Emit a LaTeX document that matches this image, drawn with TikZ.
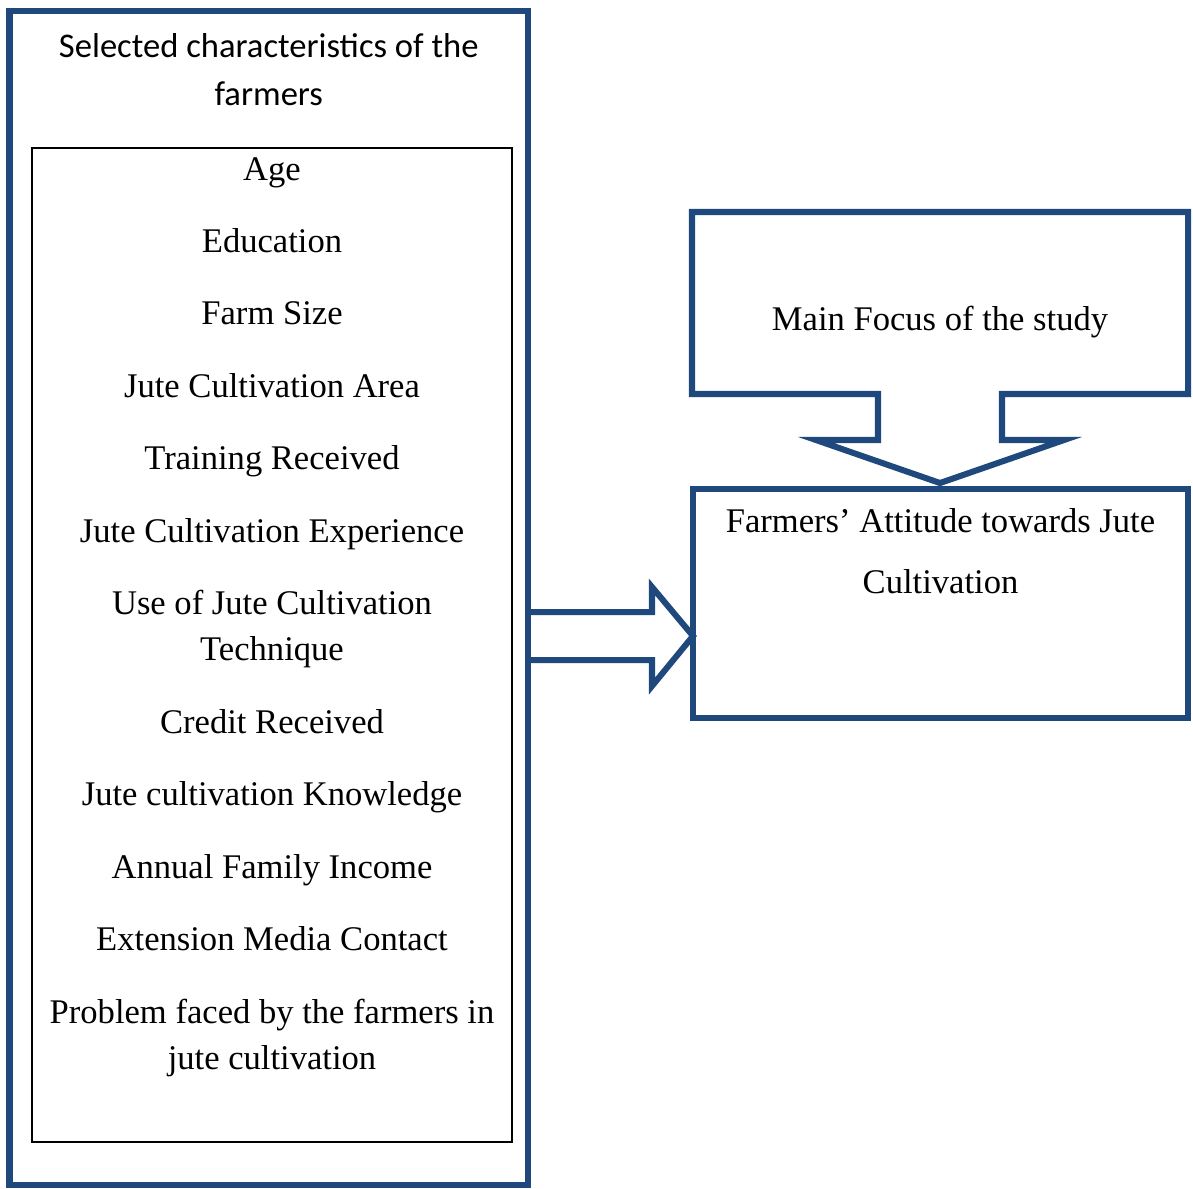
\documentclass[tikz,border=0pt]{standalone}
\usepackage{fontspec}
\setmainfont{Liberation Serif}
\newfontfamily\calibrifont{Carlito}
\usepackage{xcolor}
\usepackage{tikz}
\usetikzlibrary{positioning, fit, calc}
\definecolor{frameblue}{HTML}{1F497D}

\begin{document}
\begin{tikzpicture}[x=0.347pt, y=-0.347pt, node distance=8.74pt,
  box/.style={draw=frameblue, line width=2.1pt, inner sep=0pt, outer sep=0pt},
  listframe/.style={draw=black, line width=0.75pt, inner sep=0pt, outer sep=0pt},
  item/.style={align=center, inner sep=0pt, font=\fontsize{12}{16}\selectfont,
    execute at begin node=\strut, execute at end node=\strut},
  headline/.style={item, font=\calibrifont\fontsize{12}{16.66}\selectfont},
  result/.style={item, font=\fontsize{12}{21.2}\selectfont},
  blockarr/.style={draw=frameblue, line width=2.1pt, line join=miter}]

  \useasboundingbox (0,0) rectangle (1193,1188);

  % left side
  \node[box, fit={(9.5,11) (528,1185)}] (charbox) {};
  \node[listframe, fit={(32,148) (512,1142)}] (listbox) {};
  \node[headline, below=4.3pt of charbox.north] (title) {\strut Selected characteristics of the\\farmers};

  \node[item, anchor=base] (age) at (272,180) {Age};
  \node[item, below=of age] (edu) {Education};
  \node[item, below=of edu] (farm) {Farm Size};
  \node[item, below=of farm] (area) {Jute Cultivation Area};
  \node[item, below=of area] (training) {Training Received};
  \node[item, below=of training] (experience) {Jute Cultivation Experience};
  \node[item, below=of experience] (technique) {\strut Use of Jute Cultivation\\Technique};
  \node[item, below=of technique] (credit) {Credit Received};
  \node[item, below=of credit] (knowledge) {Jute cultivation Knowledge};
  \node[item, below=of knowledge] (income) {Annual Family Income};
  \node[item, below=of income] (media) {Extension Media Contact};
  \node[item, below=of media] (problem) {\strut Problem faced by the farmers in\\jute cultivation};

  % right side
  \draw[blockarr] (692,212) -- (1188,212) -- (1188,394) -- (1002,394) -- (1002,440)
    -- (1064,440) -- (940,483) -- (816,440) -- (878,440) -- (878,394) -- (692,394) -- cycle;
  \node[item, anchor=base] (focus) at (940,330) {Main Focus of the study};

  \node[box, fit={(693,489) (1188,718)}] (attbox) {};
  \node[result, below=0pt of attbox.north] (attitude) {\strut Farmers’ Attitude towards Jute\\Cultivation};

  % block arrow
  \path (charbox.east) ++(0,38) coordinate (arrstart);
  \draw[blockarr] ($(arrstart)+(0,-24)$) -- ++(124,0) -- ++(0,-25) -- (attbox.west |- arrstart)
    -- ($(arrstart)+(124,50)$) -- ++(0,-26) -- ($(arrstart)+(0,24)$);
\end{tikzpicture}
\end{document}
